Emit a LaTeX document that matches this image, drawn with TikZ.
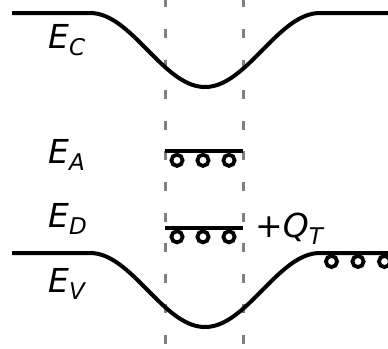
\documentclass[tikz,border=0pt]{standalone}
\usepackage{fontspec}
\setmainfont{DejaVu Sans}
\newcommand{\bandlbl}[2]{{\fontsize{33}{33}\selectfont\itshape #1}\raisebox{-7.5pt}{\fontsize{23}{23}\selectfont\itshape #2}}
\begin{document}
\begin{tikzpicture}[x=1pt,y=-1pt,
  band/.style={line width=4pt, line join=round},
  levelline/.style={line width=4pt},
  trap/.style={line width=3.8pt},
  guide/.style={draw=gray, line width=3pt, dash pattern=on 9pt off 21.6pt},
  lbl/.style={inner sep=0pt, anchor=base west}]
\useasboundingbox (0,0) rectangle (388,348);
% guide lines
\draw[guide] (165,-1.6) -- (165,350);
\draw[guide] (243,-1.6) -- (243,350);
% conduction band
\draw[band] (12,13) -- (90,13) -- plot[domain=90:320,samples=90] (\x,{13+37*(1-cos(1.565217*(\x-90)))}) -- (390,13);
% valence band
\draw[band] (12,253) -- (90,253) -- plot[domain=90:320,samples=90] (\x,{253+37*(1-cos(1.565217*(\x-90)))}) -- (390,253);
% trap levels
\draw[levelline] (165,151) -- (243,151);
\draw[levelline] (165,227.5) -- (243,227.5);
\foreach \cx in {177,203,229} {
  \draw[trap] (\cx,160.3) circle[radius=5.6pt];
  \draw[trap] (\cx,236.8) circle[radius=5.6pt];
}
\foreach \cx in {331.5,358,384.5} {
  \draw[trap] (\cx,261.5) circle[radius=5.6pt];
}
% labels
\node[lbl] (ec) at (48,48) {\bandlbl{E}{C}};
\node[lbl] (ea) at (48,163) {\bandlbl{E}{A}};
\node[lbl] (ed) at (48,227) {\bandlbl{E}{D}};
\node[lbl] (ev) at (48,292) {\bandlbl{E}{V}};
\node[lbl] (qt) at (255,237) {{\fontsize{33}{33}\selectfont +}\bandlbl{Q}{T}};
\end{tikzpicture}
\end{document}
